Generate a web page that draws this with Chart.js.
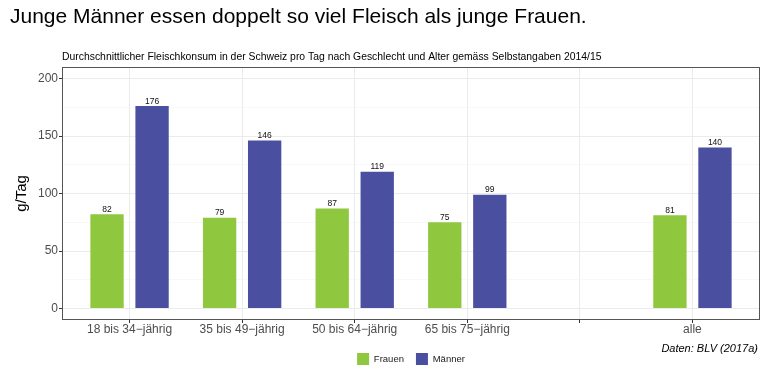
<!DOCTYPE html>
<html><head><meta charset="utf-8">
<script src="https://cdn.jsdelivr.net/npm/chart.js@4"></script>
<style>html,body{margin:0;padding:0;background:#fff}</style>
</head><body>
<canvas id="c" width="768" height="380"></canvas>
<script>
const categories = ["18 bis 34−jährig", "35 bis 49−jährig", "50 bis 64−jährig", "65 bis 75−jährig", "", "alle"];
const frauen = [82, 79, 87, 75, null, 81];
const maenner = [176, 146, 119, 99, null, 140];
const yTicks = [0, 25, 50, 75, 100, 125, 150, 175, 200];
const yMajor = [0, 50, 100, 150, 200];
const seriesNames = ["Frauen", "Männer"];
const titleText = "Junge Männer essen doppelt so viel Fleisch als junge Frauen.";
const subtitleText = "Durchschnittlicher Fleischkonsum in der Schweiz pro Tag nach Geschlecht und Alter gemäss Selbstangaben 2014/15";
const captionText = "Daten: BLV (2017a)";
const yTitleText = "g/Tag";

const FONT = '"Liberation Sans", Arial, Helvetica, sans-serif';
const toPoints = arr => arr.map((v, i) => v == null ? null : {x: i, y: v}).filter(p => p);

const textPlugin = {
  id: 'texts',
  afterDraw(chart) {
    const ctx = chart.ctx;
    ctx.save();
    ctx.fillStyle = '#000';
    ctx.textAlign = 'left';
    ctx.textBaseline = 'alphabetic';
    ctx.font = '21px ' + FONT;
    ctx.fillText(titleText, 10, 23);
    ctx.font = '10.4px ' + FONT;
    ctx.fillText(subtitleText, 62, 60);
    ctx.textAlign = 'right';
    ctx.font = 'italic 11px ' + FONT;
    ctx.fillText(captionText, 758, 352);
    const a = chart.chartArea;
    ctx.strokeStyle = '#555';
    ctx.lineWidth = 1;
    ctx.strokeRect(a.left + 0.5, a.top + 0.5, a.right - a.left - 1, a.bottom - a.top - 1);
    ctx.restore();
  },
  afterDatasetsDraw(chart) {
    const ctx = chart.ctx;
    ctx.save();
    ctx.fillStyle = '#111';
    ctx.textAlign = 'center';
    ctx.textBaseline = 'alphabetic';
    ctx.font = '8.5px ' + FONT;
    chart.data.datasets.forEach((ds, di) => {
      const meta = chart.getDatasetMeta(di);
      meta.data.forEach((bar, i) => {
        ctx.fillText(String(ds.data[i].y), bar.x, bar.y - 2.5);
      });
    });
    ctx.restore();
  }
};

new Chart(document.getElementById('c'), {
  type: 'bar',
  data: {
    datasets: [
      {label: seriesNames[0], data: toPoints(frauen), backgroundColor: '#8fc73e', borderWidth: 0},
      {label: seriesNames[1], data: toPoints(maenner), backgroundColor: '#4a4fa0', borderWidth: 0}
    ]
  },
  options: {
    responsive: false,
    devicePixelRatio: 1,
    animation: false,
    barPercentage: 0.74,
    categoryPercentage: 0.8,
    layout: {padding: {top: 67, right: 8, left: 0, bottom: 5}},
    plugins: {
      tooltip: {enabled: false},
      title: {display: false},
      legend: {
        display: true,
        position: 'bottom',
        fullSize: false,
        labels: {
          boxWidth: 12, boxHeight: 12, padding: 12,
          color: '#1a1a1a',
          font: {family: FONT, size: 9.5}
        }
      }
    },
    scales: {
      x: {
        type: 'linear',
        min: -0.6, max: 5.6,
        offset: false,
        afterBuildTicks: s => { s.ticks = categories.map((c, i) => ({value: i})); },
        afterFit: s => { s.height = 21; },
        border: {display: false},
        grid: {offset: false, color: '#ebebeb', lineWidth: 1, tickLength: 3, tickColor: '#333', drawTicks: true},
        ticks: {
          autoSkip: false, maxRotation: 0, padding: -1,
          color: '#4d4d4d', font: {family: FONT, size: 12},
          callback: v => categories[v]
        }
      },
      y: {
        min: -10, max: 210,
        afterBuildTicks: s => { s.ticks = yTicks.map(v => ({value: v})); },
        afterFit: s => { s.width = 62; },
        border: {display: false},
        grid: {
          color: c => yMajor.includes(c.tick.value) ? '#ebebeb' : '#f3f3f3',
          lineWidth: c => yMajor.includes(c.tick.value) ? 1 : 0.6,
          tickColor: c => yMajor.includes(c.tick.value) ? '#333' : 'rgba(0,0,0,0)',
          tickLength: 3, drawTicks: true
        },
        ticks: {
          padding: 1,
          color: '#4d4d4d', font: {family: FONT, size: 12},
          callback: v => yMajor.includes(v) ? String(v) : ''
        },
        title: {
          display: true, text: yTitleText, color: '#000',
          font: {family: FONT, size: 15},
          padding: {top: 13, bottom: 0}
        }
      }
    }
  },
  plugins: [textPlugin]
});
</script>
</body></html>
